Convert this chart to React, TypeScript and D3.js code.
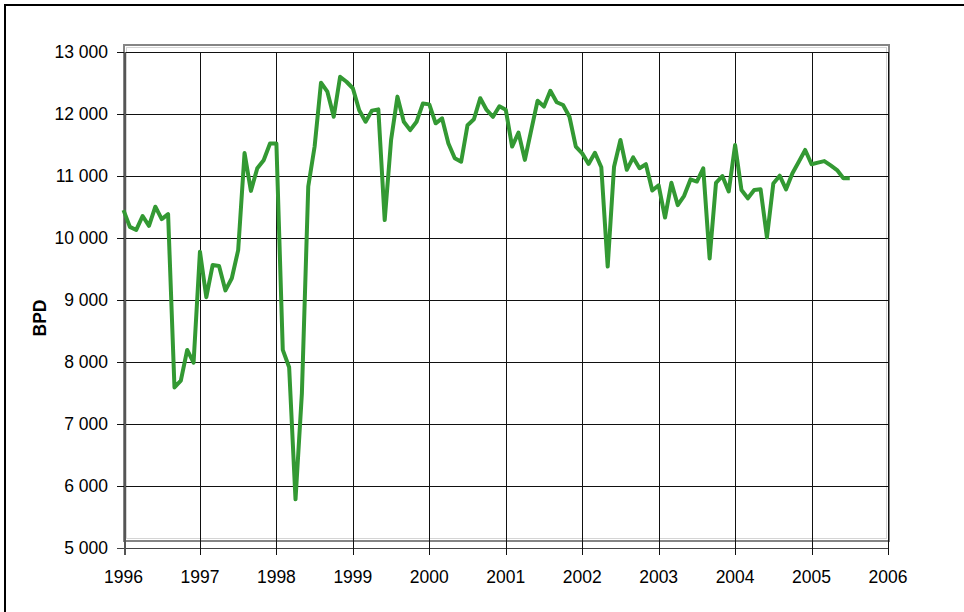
import React, { useEffect, useRef } from "react";
import * as d3 from "d3";

// monthly BPD, Jan 1996 .. Jul 2005
const years = [1996, 1997, 1998, 1999, 2000, 2001, 2002, 2003, 2004, 2005];
const bpd1996 = [10450, 10180, 10130, 10355, 10195, 10505, 10305, 10385, 7590, 7700, 8195, 7990];
const bpd1997 = [9780, 9045, 9565, 9550, 9155, 9350, 9805, 11370, 10760, 11125, 11255, 11525];
const bpd1998 = [11525, 8195, 7915, 5785, 7495, 10830, 11475, 12505, 12360, 11955, 12600, 12520];
const bpd1999 = [12415, 12060, 11875, 12055, 12075, 10290, 11580, 12280, 11875, 11740, 11875, 12170];
const bpd2000 = [12155, 11850, 11930, 11525, 11285, 11230, 11820, 11915, 12255, 12065, 11955, 12125];
const bpd2001 = [12070, 11475, 11700, 11260, 11740, 12215, 12120, 12375, 12190, 12145, 11955, 11475];
const bpd2002 = [11365, 11195, 11375, 11140, 9540, 11150, 11580, 11100, 11300, 11125, 11190, 10765];
const bpd2003 = [10850, 10330, 10890, 10530, 10680, 10945, 10910, 11125, 9670, 10890, 11000, 10750];
const bpd2004 = [11500, 10775, 10640, 10775, 10785, 10010, 10880, 11005, 10785, 11045, 11230, 11420];
const bpd2005 = [11190, 11215, 11240, 11170, 11095, 10965, 10965];

const yTicks = [5000, 6000, 7000, 8000, 9000, 10000, 11000, 12000, 13000];
const xTicks = [1996, 1997, 1998, 1999, 2000, 2001, 2002, 2003, 2004, 2005, 2006];

const W = 964;
const H = 612;

export default function App() {
  const ref: any = useRef();

  useEffect(() => {
    drawChart();
  }, []);

  const drawChart = () => {
    const byYear = [bpd1996, bpd1997, bpd1998, bpd1999, bpd2000, bpd2001, bpd2002, bpd2003, bpd2004, bpd2005];
    const data: { t: number; v: number }[] = [];
    byYear.forEach((vals, yi) => {
      vals.forEach((v, m) => data.push({ t: years[yi] + m / 12, v }));
    });

    const left = 123.5;
    const right = 888;
    const top = 52;
    const bottom = 548;

    const x = d3.scaleLinear().domain([1996, 2006]).range([left, right]);
    const y = d3.scaleLinear().domain([5000, 13000]).range([bottom, top]);
    const fmt = d3.formatLocale({ decimal: ".", thousands: " ", grouping: [3], currency: ["", ""] }).format(",");

    const svg = d3.select(ref.current);
    svg.selectAll("*").remove();

    svg.append("rect").attr("width", W).attr("height", H).attr("fill", "#fff");

    // outer chart frame
    svg
      .append("rect")
      .attr("x", 5)
      .attr("y", 5)
      .attr("width", 1100)
      .attr("height", 800)
      .attr("fill", "none")
      .attr("stroke", "#000")
      .attr("stroke-width", 2);

    // plot area border (offset grey frame)
    svg
      .append("rect")
      .attr("x", 124)
      .attr("y", 45)
      .attr("width", 765)
      .attr("height", 496)
      .attr("fill", "none")
      .attr("stroke", "#858585")
      .attr("stroke-width", 2);
    svg
      .append("rect")
      .attr("x", 126.5)
      .attr("y", 47.5)
      .attr("width", 760)
      .attr("height", 491)
      .attr("fill", "none")
      .attr("stroke", "#d4d4d4")
      .attr("stroke-width", 1);

    const grid = svg.append("g").attr("shape-rendering", "crispEdges");
    grid
      .selectAll("line.h")
      .data(yTicks)
      .join("line")
      .attr("class", "h")
      .attr("x1", 117)
      .attr("x2", right)
      .attr("y1", (d) => Math.round(y(d)) + 0.5)
      .attr("y2", (d) => Math.round(y(d)) + 0.5)
      .attr("stroke", (d) => (d === 5000 ? "#444" : "#111"))
      .attr("stroke-width", 1);
    grid
      .selectAll("line.v")
      .data(xTicks)
      .join("line")
      .attr("class", "v")
      .attr("x1", (d) => Math.round(x(d)) + 0.5)
      .attr("x2", (d) => Math.round(x(d)) + 0.5)
      .attr("y1", top)
      .attr("y2", bottom + 7)
      .attr("stroke", "#111")
      .attr("stroke-width", 1);

    // y axis line
    grid
      .append("line")
      .attr("x1", 124.5)
      .attr("x2", 124.5)
      .attr("y1", top)
      .attr("y2", bottom + 7)
      .attr("stroke", "#555")
      .attr("stroke-width", 2);

    const line = d3
      .line<{ t: number; v: number }>()
      .x((d) => x(d.t))
      .y((d) => y(d.v));

    svg
      .append("path")
      .datum(data)
      .attr("fill", "none")
      .attr("stroke", "#339933")
      .attr("stroke-width", 4)
      .attr("stroke-linejoin", "round")
      .attr("d", line);

    const font = "'Liberation Sans', Arial, sans-serif";

    svg
      .selectAll("text.y")
      .data(yTicks)
      .join("text")
      .attr("class", "y")
      .attr("x", 108)
      .attr("y", (d) => y(d))
      .attr("dy", "0.36em")
      .attr("text-anchor", "end")
      .attr("font-family", font)
      .attr("font-size", 17.5)
      .text((d) => fmt(d));

    svg
      .selectAll("text.x")
      .data(xTicks)
      .join("text")
      .attr("class", "x")
      .attr("x", (d) => x(d))
      .attr("y", 577)
      .attr("dy", "0.36em")
      .attr("text-anchor", "middle")
      .attr("font-family", font)
      .attr("font-size", 17.5)
      .text((d) => String(d));

    svg
      .append("text")
      .attr("transform", "translate(46,318) rotate(-90)")
      .attr("text-anchor", "middle")
      .attr("font-family", font)
      .attr("font-weight", "bold")
      .attr("font-size", 17.5)
      .text("BPD");
  };

  return (
    <svg
      ref={ref}
      width={W}
      height={H}
      style={{ position: "absolute", left: 0, top: 0, display: "block" }}
    />
  );
}
